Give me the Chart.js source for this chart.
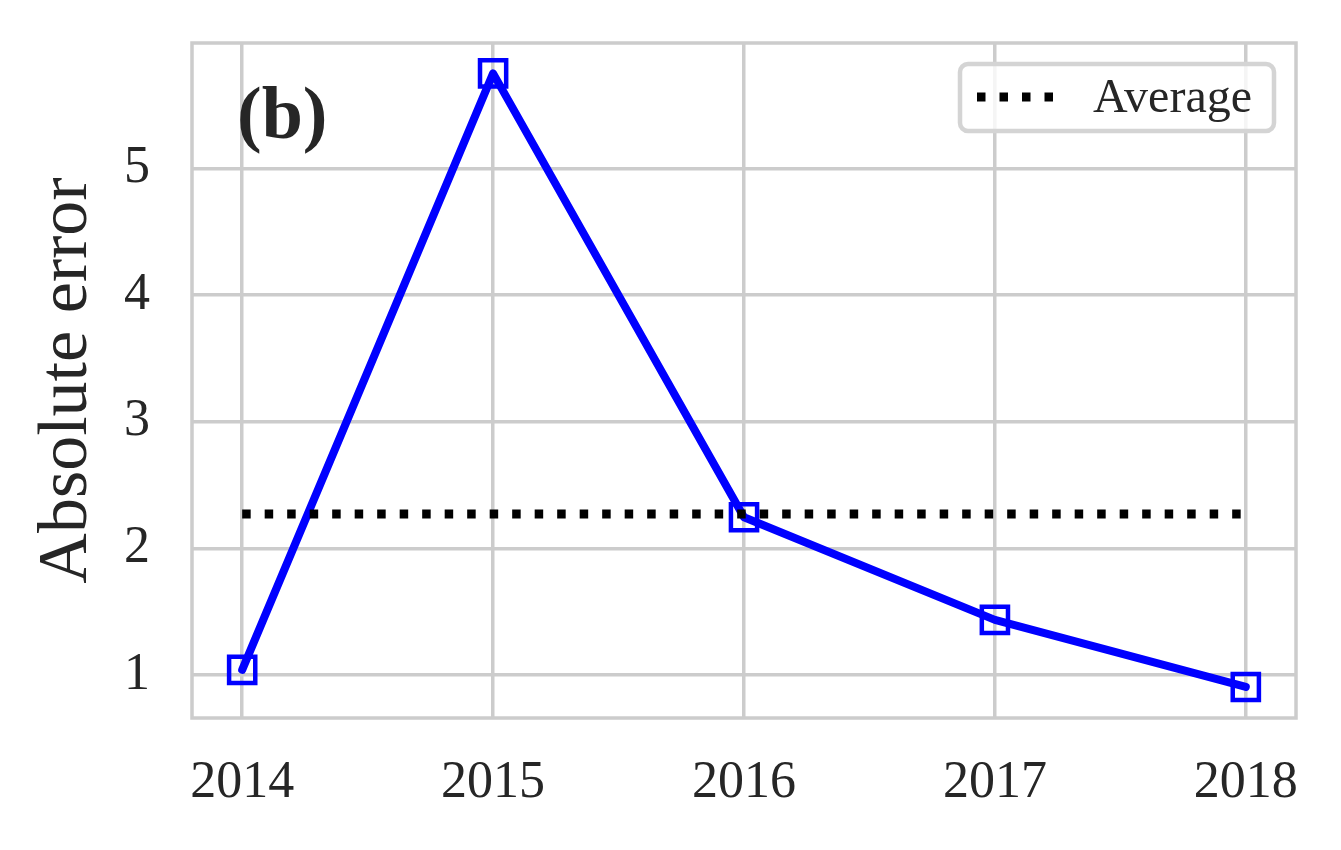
<!DOCTYPE html>
<html>
<head>
<meta charset="utf-8">
<script src="https://cdn.jsdelivr.net/npm/chart.js@4"></script>
<style>
  body { margin: 0; background: #fff; }
  canvas { display: block; }
</style>
</head>
<body>
<canvas id="errorChart" width="1341" height="850"></canvas>
<script>
const years = [2014, 2015, 2016, 2017, 2018];
const absErrors = [1.04, 5.75, 2.245, 1.435, 0.905];
const averageError = 2.27;
const yTicks = [1, 2, 3, 4, 5];

const textColor = '#262626';
const gridColor = '#cccccc';

const ctx = document.getElementById('errorChart').getContext('2d');

const decorations = {
    id: 'decorations',
    beforeDatasetsDraw(chart) {
        const {ctx, chartArea} = chart;
        ctx.save();
        ctx.strokeStyle = gridColor;
        ctx.lineWidth = 3.5;
        ctx.strokeRect(chartArea.left, chartArea.top, chartArea.right - chartArea.left, chartArea.bottom - chartArea.top);
        ctx.restore();
    },
    afterDraw(chart) {
        const {ctx, chartArea} = chart;
        ctx.save();
        // panel label
        ctx.fillStyle = textColor;
        ctx.font = 'bold 74px "Liberation Serif"';
        ctx.textBaseline = 'alphabetic';
        ctx.textAlign = 'left';
        ctx.fillText('(b)', chartArea.left + 45, chartArea.top + 95);

        // legend box
        const bx = 960, by = 64, bw = 314, bh = 67;
        ctx.beginPath();
        ctx.roundRect(bx, by, bw, bh, 8);
        ctx.fillStyle = 'rgba(255,255,255,0.8)';
        ctx.fill();
        ctx.lineWidth = 4.5;
        ctx.strokeStyle = '#d4d4d4';
        ctx.stroke();

        const avg = chart.data.datasets[0];
        ctx.beginPath();
        ctx.setLineDash(avg.borderDash);
        ctx.lineWidth = avg.borderWidth;
        ctx.strokeStyle = avg.borderColor;
        ctx.moveTo(977, 97);
        ctx.lineTo(1060, 97);
        ctx.stroke();
        ctx.setLineDash([]);

        ctx.fillStyle = textColor;
        ctx.font = '48px "Liberation Serif"';
        ctx.textBaseline = 'middle';
        ctx.fillText(avg.label, 1093, 99);
        ctx.restore();
    }
};

new Chart(ctx, {
    type: 'line',
    data: {
        datasets: [{
            label: 'Average',
            data: [{x: years[0], y: averageError}, {x: years[years.length - 1], y: averageError}],
            borderColor: '#000000',
            borderWidth: 9,
            borderDash: [8.5, 14],
            borderCapStyle: 'butt',
            pointRadius: 0,
            order: 0
        }, {
            label: 'Absolute error',
            data: years.map((y, i) => ({x: y, y: absErrors[i]})),
            borderColor: '#0000ff',
            borderWidth: 8,
            borderCapStyle: 'round',
            borderJoinStyle: 'round',
            tension: 0,
            pointStyle: 'rect',
            pointRadius: 18.5,
            pointBorderWidth: 4.5,
            pointBorderColor: '#0000ff',
            pointBackgroundColor: 'rgba(0,0,0,0)',
            order: 1
        }]
    },
    options: {
        responsive: false,
        animation: false,
        devicePixelRatio: 1,
        layout: { padding: { top: 43, right: 45, left: 0, bottom: 0 } },
        plugins: {
            legend: { display: false },
            tooltip: { enabled: false }
        },
        scales: {
            x: {
                type: 'linear',
                min: 2013.8,
                max: 2018.2,
                afterBuildTicks: s => { s.ticks = years.map(v => ({value: v})); },
                afterFit: s => { s.height = 132; s.paddingLeft = 0; s.paddingRight = 0; },
                grid: { color: gridColor, lineWidth: 3.5, drawTicks: false },
                border: { display: false },
                ticks: {
                    color: textColor,
                    font: { family: '"Liberation Serif"', size: 52 },
                    padding: 34,
                    maxRotation: 0,
                    callback: v => String(v)
                }
            },
            y: {
                type: 'linear',
                min: 0.66,
                max: 5.99,
                afterBuildTicks: s => { s.ticks = yTicks.map(v => ({value: v})); },
                afterFit: s => { s.width = 192; s.paddingTop = 0; s.paddingBottom = 0; },
                grid: { color: gridColor, lineWidth: 3.5, drawTicks: false },
                border: { display: false },
                ticks: {
                    color: textColor,
                    font: { family: '"Liberation Serif"', size: 52 },
                    padding: 42,
                    callback: v => String(v)
                },
                title: {
                    display: true,
                    text: 'Absolute error',
                    color: textColor,
                    font: { family: '"Liberation Serif"', size: 70, weight: 'normal' },
                    padding: { top: 26, bottom: 0 }
                }
            }
        }
    },
    plugins: [decorations]
});
</script>
</body>
</html>
